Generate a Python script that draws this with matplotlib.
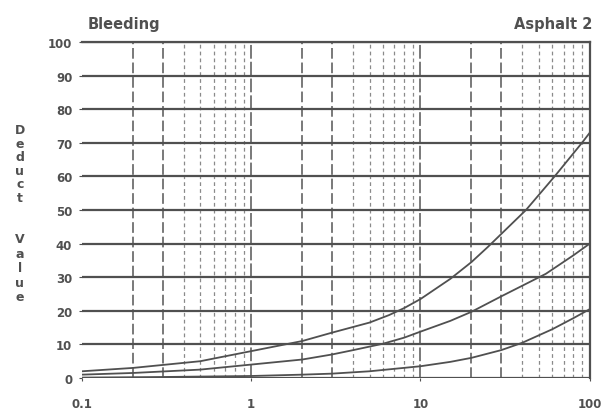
import matplotlib
matplotlib.use("Agg")
import numpy as np
import matplotlib.pyplot as plt

plt.rcParams["font.family"] = ["DejaVu Sans"]

# density (%) vs deduct value
high_x = [0.1, 0.2, 0.5, 1, 2, 3, 5, 6.5, 8, 10, 15, 20, 25, 42, 62, 90, 100]
high_y = [2, 3, 5, 8, 11, 13.5, 16.5, 18.7, 20.8, 23.5, 29.5, 34.5, 39, 50, 60, 70, 73]
med_x = [0.1, 0.2, 0.5, 1, 2, 3, 4, 6, 8, 10, 15, 20, 30, 55, 80, 100]
med_y = [1, 1.5, 2.5, 4, 5.5, 7, 8.3, 10.2, 12, 13.8, 17, 19.7, 24.3, 31, 36.5, 40]
low_x = [0.1, 0.3, 1, 2, 3, 5, 10, 15, 20, 30, 40, 60, 80, 100]
low_y = [0.1, 0.3, 0.6, 1, 1.3, 2, 3.5, 4.8, 6, 8.3, 10.5, 14.5, 17.8, 20.5]

y_ticks = list(range(0, 101, 10))
x_ticks = [0.1, 1, 10, 100]
x_labels = ["0.1", "1", "10", "100"]

TXT = "#505050"
LINE = "#505050"

fig = plt.figure(figsize=(6.03, 4.10), dpi=100)
ax = fig.add_axes([0.136, 0.0756, 0.842, 0.8195])
ax.set_xscale("log")
ax.set_xlim(0.1, 100)
ax.set_ylim(0, 100)

# minor vertical grid (broken lines)
for dec in [0.1, 1, 10]:
    for m in range(2, 10):
        strong = m in (2, 3)
        ax.axvline(dec * m, color="#555555" if strong else "#8a8a8a",
                   linewidth=1.1 if strong else 0.9,
                   linestyle=(0, (7, 2.5)) if strong else (0, (3, 2.5)), zorder=1)
for v in [1, 10]:
    ax.axvline(v, color="#555555", linewidth=1.1, linestyle=(0, (9, 2)), zorder=1)

for v in y_ticks:
    ax.axhline(v, color=LINE, linewidth=1.6, zorder=2)

for xs, ys in [(high_x, high_y), (med_x, med_y), (low_x, low_y)]:
    ax.plot(xs, ys, color=LINE, linewidth=1.3, zorder=3)

ax.set_yticks(y_ticks)
ax.set_xticks(x_ticks)
ax.set_xticklabels(x_labels)
ax.xaxis.set_minor_locator(matplotlib.ticker.NullLocator())
ax.tick_params(axis="both", labelsize=8.5, length=2, colors=TXT, width=0.8)
ax.tick_params(axis="y", pad=5)
ax.tick_params(axis="x", pad=12)
for lab in ax.get_xticklabels() + ax.get_yticklabels():
    lab.set_fontweight("bold")
for s in ["left", "bottom"]:
    ax.spines[s].set_visible(False)
for s in ["top", "right"]:
    ax.spines[s].set_color(LINE)
    ax.spines[s].set_linewidth(1.6)

fig.text(0.145, 0.94, "Bleeding", fontsize=10.5, fontweight="bold",
         color=TXT, va="center")
fig.text(0.982, 0.94, "Asphalt 2", fontsize=10.5, fontweight="bold",
         color=TXT, va="center", ha="right")

# stacked y-axis label
word1 = "Deduct"
word2 = "Value"
for i, ch in enumerate(word1):
    fig.text(0.033, 1 - (131 + 13.5 * i) / 410, ch, fontsize=9, fontweight="bold",
             color=TXT, ha="center", va="center")
for i, ch in enumerate(word2):
    fig.text(0.033, 1 - (240 + 14.5 * i) / 410, ch, fontsize=9, fontweight="bold",
             color=TXT, ha="center", va="center")

fig.savefig("out.png", dpi=100)
